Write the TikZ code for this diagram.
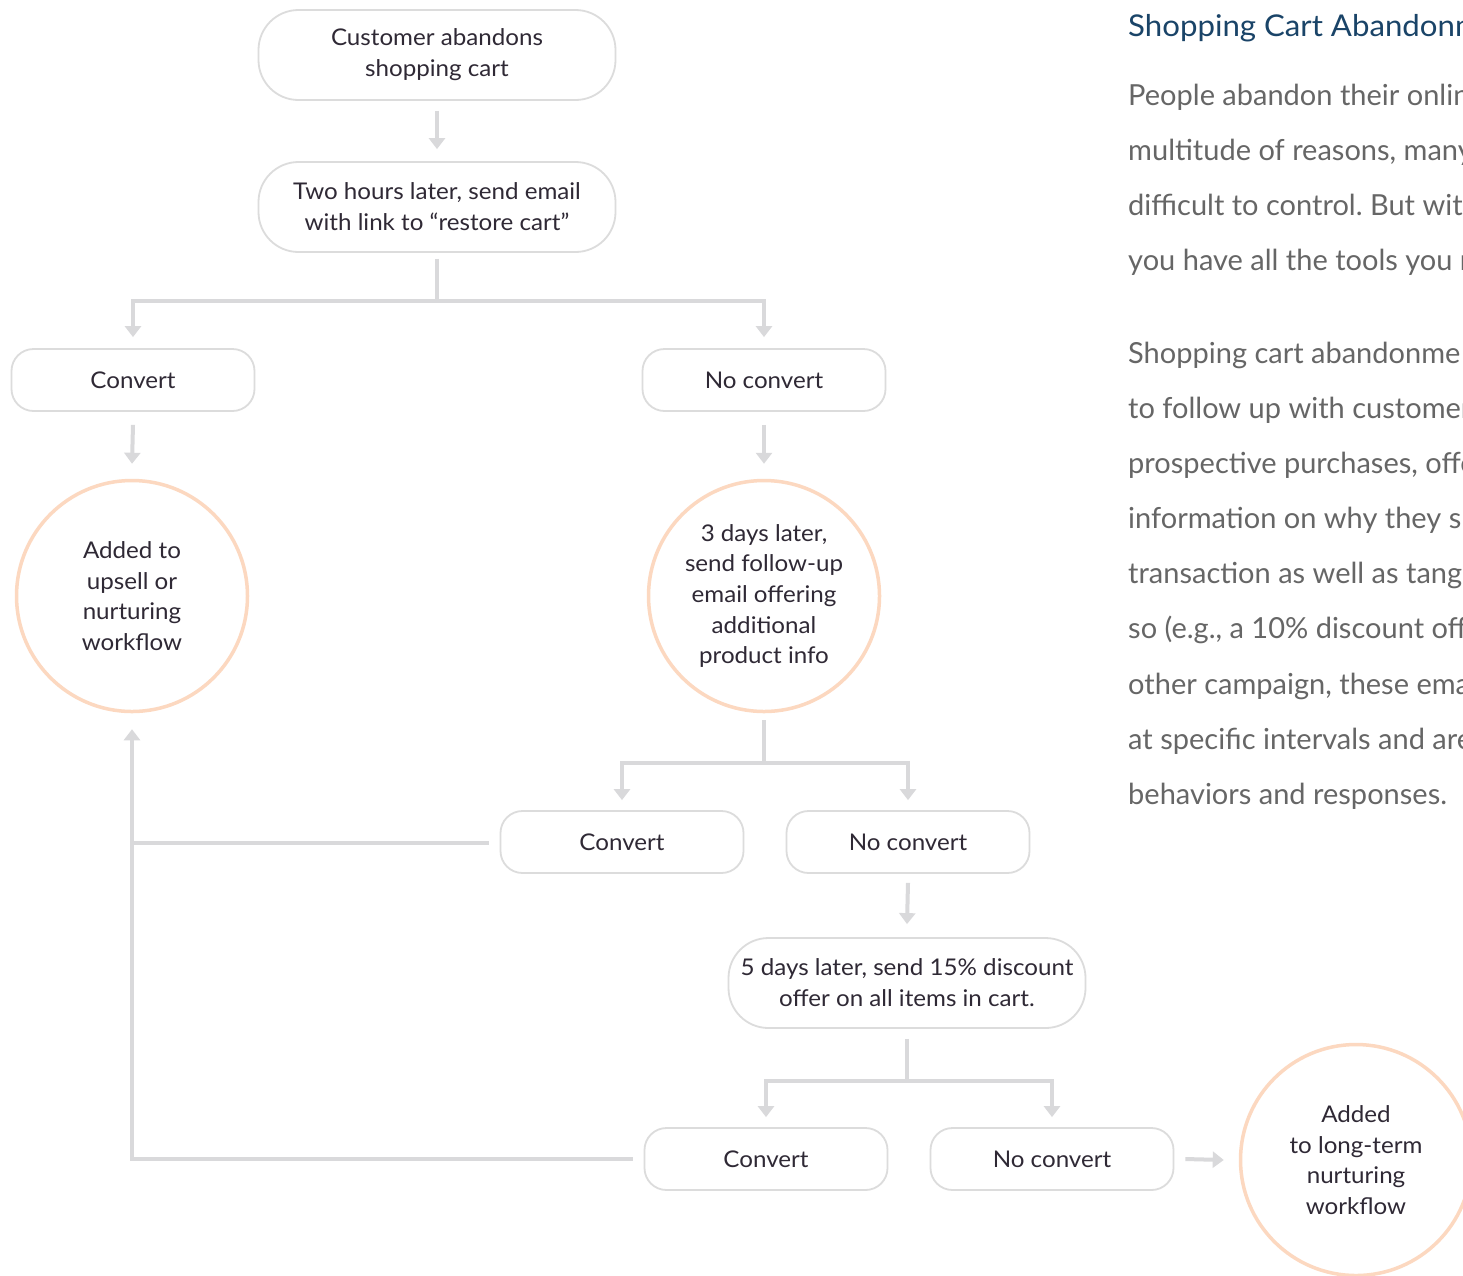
\documentclass[tikz,border=0pt]{standalone}
\usepackage{fontspec}
\setmainfont{Lato}
\newfontfamily\boxfont[FakeStretch=1.05]{Lato}
\newfontfamily\titlefont[FakeStretch=1.04]{Lato}
\usetikzlibrary{arrows.meta,calc}
\definecolor{lgray}{HTML}{D9D9DB}
\definecolor{bgray}{HTML}{DCDCDC}
\definecolor{peach}{HTML}{FCD8C0}
\definecolor{txt}{HTML}{2F2935}
\definecolor{navy}{HTML}{1A4468}
\definecolor{bodyc}{HTML}{666666}
\frenchspacing
\begin{document}
\begin{tikzpicture}[x=1pt,y=-1pt,
 big/.style={draw=bgray,line width=1.8pt,rounded corners=40pt,minimum width=357pt,minimum height=90pt,align=center,text=txt,font=\boxfont\fontsize{23}{31}\selectfont},
 small/.style={draw=bgray,line width=1.8pt,rounded corners=22pt,minimum width=243pt,minimum height=62pt,text=txt,font=\boxfont\fontsize{23}{31}\selectfont},
 circ/.style={circle,draw=peach,line width=3.5pt,minimum size=231pt,inner sep=0pt,align=center,text=txt,font=\boxfont\fontsize{23}{30.7}\selectfont},
 conn/.style={draw=lgray,line width=4pt},
 arr/.style={conn,-{Triangle[width=16pt,length=11pt]}},
 para/.style={anchor=base west,inner sep=0pt,text=bodyc,font=\fontsize{29}{35}\selectfont},
]
\useasboundingbox (0,0) rectangle (1463,1275);
\clip (0,0) rectangle (1463,1275);
\fill[white] (0,0) rectangle (1463,1275);

% nodes
\node[big] (b1) at (437,55) {Customer abandons\\shopping cart};
\node[big] (b2) at (437,207) {Two hours later, send email\\with link to “restore cart”};
\node[small] (c1) at (133,380) {Convert};
\node[small] (n1) at (764,380) {No convert};
\node[circ] (a1) at (132,596) {Added to\\upsell or\\nurturing\\workflow};
\node[circ] (d3) at (764,596) {3 days later,\\send follow-up\\email offering\\additional\\product info};
\node[small] (c2) at (622,842) {Convert};
\node[small] (n2) at (908,842) {No convert};
\node[big] (b5) at (907,983) {5 days later, send 15\% discount\\offer on all items in cart.};
\node[small] (c3) at (766,1159) {Convert};
\node[small] (n3) at (1052,1159) {No convert};
\node[circ] (a2) at (1356,1160) {Added\\to long-term\\nurturing\\workflow};

% connectors
\draw[arr] ($(b1.south)+(0,10)$) -- ($(b2.north)+(0,-12)$);
\coordinate (j1) at ($(b2.south)+(0,48)$);
\draw[conn] ($(b2.south)+(0,6)$) -- (j1);
\draw[arr] (j1) -| ($(c1.north)+(0,-11)$);
\draw[arr] (j1) -| ($(n1.north)+(0,-11)$);
\draw[arr] ($(c1.south)+(0,13)$) -- ($(a1.north)+(0,-15)$);
\draw[arr] ($(n1.south)+(0,13)$) -- ($(d3.north)+(0,-15)$);
\coordinate (j2) at ($(d3.south)+(0,50)$);
\draw[conn] ($(d3.south)+(0,7)$) -- (j2);
\draw[arr] (j2) -| ($(c2.north)+(0,-10)$);
\draw[arr] (j2) -| ($(n2.north)+(0,-10)$);
\draw[arr] ($(n2.south)+(0,9)$) -- ($(b5.north)+(0,-13)$);
\coordinate (j3) at ($(b5.south)+(0,52)$);
\draw[conn] ($(b5.south)+(0,10)$) -- (j3);
\draw[arr] (j3) -| ($(c3.north)+(0,-10)$);
\draw[arr] (j3) -| ($(n3.north)+(0,-10)$);
\draw[conn] ($(c2.west)+(-11,1)$) -- (a1.south |- {$(c2.west)+(0,1)$});
\draw[arr] ($(c3.west)+(-11,0)$) -| ($(a1.south)+(0,16)$);
\draw[arr] ($(n3.east)+(11,0)$) -- ($(a2.west)+(-15,0)$);

% right text
\node[para,text=navy,font=\titlefont\fontsize{30}{35}\selectfont] (t0) at (1128,36) {Shopping Cart Abandonm};
\node[para] (p1) at (1128,105) {People abandon their onlin};
\node[para] (p2) at (1128,160) {multitude of reasons, many};
\node[para] (p3) at (1128,215) {difficult to control. But with};
\node[para] (p4) at (1128,270) {you have all the tools you n};
\node[para] (q1) at (1128,363) {Shopping cart abandonme};
\node[para] (q2) at (1128,418) {to follow up with customer};
\node[para] (q3) at (1128,473) {prospective purchases, offe};
\node[para] (q4) at (1128,528) {information on why they sh};
\node[para] (q5) at (1128,583) {transaction as well as tang};
\node[para] (q6) at (1128,638) {so (e.g., a 10\% discount offe};
\node[para] (q7) at (1128,694) {other campaign, these ema};
\node[para] (q8) at (1128,749) {at specific intervals and are};
\node[para] (q9) at (1128,804) {behaviors and responses.};
\end{tikzpicture}
\end{document}
